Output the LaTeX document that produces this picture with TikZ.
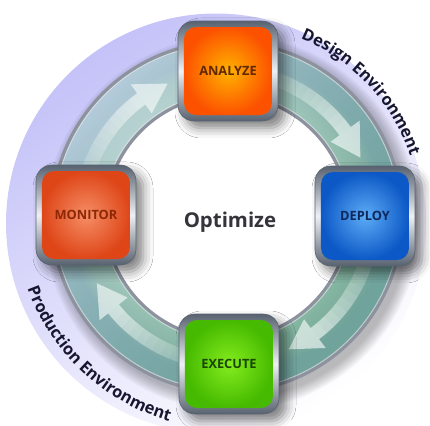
\documentclass[tikz,border=0pt]{standalone}
\usepackage{fontspec}
\setmainfont{Open Sans}
\usetikzlibrary{shadows.blur,fadings,decorations.text,calc}
\definecolor{lav}{RGB}{196,194,248}
\definecolor{ringIn}{RGB}{142,194,170}
\definecolor{ringMid}{RGB}{118,170,154}
\definecolor{ringOut}{RGB}{86,140,156}
\definecolor{ringTint}{RGB}{124,174,154}
\definecolor{ringEdge}{RGB}{140,146,158}
\definecolor{hiCol}{RGB}{222,232,246}
\definecolor{arrowcol}{RGB}{245,250,248}
\definecolor{frameDark}{RGB}{88,98,112}
\definecolor{frameLight}{RGB}{238,240,244}
\definecolor{anIn}{RGB}{255,178,0}
\definecolor{anOut}{RGB}{252,82,0}
\definecolor{anTxt}{RGB}{95,40,0}
\definecolor{deIn}{RGB}{92,172,246}
\definecolor{deOut}{RGB}{12,88,198}
\definecolor{deTxt}{RGB}{15,40,90}
\definecolor{moIn}{RGB}{246,142,102}
\definecolor{moOut}{RGB}{222,70,24}
\definecolor{moTxt}{RGB}{140,40,5}
\definecolor{exIn}{RGB}{132,236,30}
\definecolor{exOut}{RGB}{70,186,0}
\definecolor{exTxt}{RGB}{25,70,0}
\definecolor{optCol}{RGB}{52,52,58}
\definecolor{navy}{RGB}{22,22,48}
\pgfdeclareradialshading{ringshade}{\pgfpointorigin}{color(0bp)=(ringIn); color(17.4bp)=(ringIn); color(20.5bp)=(ringMid); color(22.5bp)=(ringOut); color(25bp)=(ringOut); color(50bp)=(ringOut)}
\tikzfading[name=fadeHi, top color=transparent!30, middle color=transparent!100, bottom color=transparent!100]
\tikzset{
 frame/.style={rounded corners=8pt, minimum size=50pt, inner sep=0pt,
   top color=frameDark, bottom color=frameDark, middle color=frameLight,
   draw=frameDark, line width=0.3pt,
   blur shadow={shadow xshift=3.5pt, shadow yshift=-3.5pt, shadow blur radius=5pt, shadow opacity=50}},
 core/.style={rounded corners=6pt, minimum size=44pt, inner sep=0pt,
   font=\fontsize{6.4}{7}\selectfont\bfseries},
 curvetext/.style={decorate, decoration={text along path, text align=center,
   text color=navy, text={|\fontsize{8.2}{9}\selectfont\bfseries|#1}}}
}
\newcommand\ringarrow[1]{%
\begin{scope}[shift={(C)},rotate=#1]
\foreach \k in {0,...,11}{%
 \pgfmathsetmacro\aa{12+3.6*\k}
 \pgfmathsetmacro\bb{12+3.6*(\k+1)}
 \pgfmathsetmacro\op{0.62*(1-\k/12)}
 \fill[arrowcol, fill opacity=\op] (\aa:139) arc[start angle=\aa, end angle=\bb, radius=139] -- (\bb:153) arc[start angle=\bb, end angle=\aa, radius=153] -- cycle;
}
\fill[arrowcol, fill opacity=0.65] (0:146) -- (12:128) -- (12:164) -- cycle;
\end{scope}}
\begin{document}
\begin{tikzpicture}[x=0.5pt,y=0.5pt]
\useasboundingbox (0,0) rectangle (430,425);
\coordinate (C) at (227,208);
\coordinate (L) at (216,201.5);
% lavender disc
\shade[top color=lav, middle color=lav, bottom color=white, shading angle=35] (L) circle (210);
\fill[white] (C) circle (122);
% ring shadow
\foreach \k in {1,...,8}{
 \fill[black, fill opacity=0.035, even odd rule] ($(C)+(5,-6)$) circle ({175+1.6*\k}) (C) circle (150);
}
% ring
\shade[shading=ringshade, even odd rule] (C) circle (175) (C) circle (122);
\fill[hiCol, path fading=fadeHi, fading angle=45, even odd rule] (C) circle (175) (C) circle (122);
\fill[ringTint, path fading=fadeHi, fading angle=-135, even odd rule] (C) circle (175) (C) circle (122);
\draw[ringEdge, line width=1.8pt] (C) circle (175);
\draw[ringEdge, line width=1.8pt] (C) circle (122);
\draw[white, opacity=0.5, line width=0.5pt] (C) circle (173);
\draw[white, opacity=0.5, line width=0.5pt] (C) circle (124);
% arrows
\ringarrow{24}
\ringarrow{-65}
\ringarrow{-153}
\ringarrow{114}
% curved labels
\begin{scope}[shift={(C)}]
\path[curvetext={Design Environment}] (88:193) arc[start angle=88, end angle=-2, radius=193];
\path[curvetext={Production Environment}] (182:212) arc[start angle=182, end angle=272, radius=212];
\end{scope}
% boxes
\node[frame] (Af) at (228,354) {};
\node[core, inner color=anIn, outer color=anOut, text=anTxt] (A) at (Af.center) {ANALYZE};
\node[frame] (Df) at (365,209) {};
\node[core, inner color=deIn, outer color=deOut, text=deTxt] (D) at (Df.center) {DEPLOY};
\node[frame] (Ef) at (229,61) {};
\node[core, inner color=exIn, outer color=exOut, text=exTxt] (E) at (Ef.center) {EXECUTE};
\node[frame] (Mf) at (86,210) {};
\node[core, inner color=moIn, outer color=moOut, text=moTxt] (M) at (Mf.center) {MONITOR};
% center
\node[font=\fontsize{10.2}{12}\selectfont\bfseries, text=optCol, anchor=base] (O) at (230,198) {Optimize};
\end{tikzpicture}
\end{document}
